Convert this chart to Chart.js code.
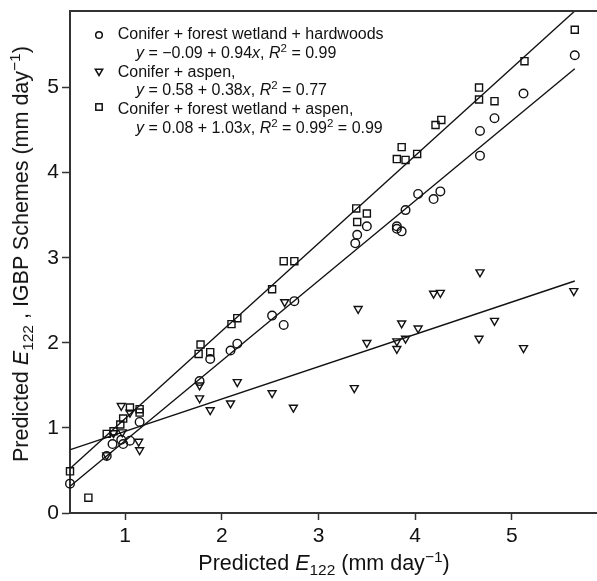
<!DOCTYPE html>
<html><head><meta charset="utf-8">
<script src="https://cdn.jsdelivr.net/npm/chart.js@4/dist/chart.umd.min.js"></script>
<style>
html,body{margin:0;padding:0;background:#fff;}
#wrap{position:relative;width:597px;height:581px;font-family:'Liberation Sans',Arial,sans-serif;color:#111;overflow:hidden;}
canvas{position:absolute;left:0;top:0;}
.t{position:absolute;white-space:nowrap;}
.sub{position:relative;font-size:0.72em;top:0.32em;}
.sup{position:relative;font-size:0.72em;top:-0.5em;}
.lg{font-size:16px;line-height:16px;}
.ax{font-size:21.5px;line-height:22px;}
</style></head><body>
<div id="wrap">
<canvas id="c" width="597" height="581"></canvas>
<div id="overlay"></div>
</div>
<script>
// ---- data ----
const seriesNames = [
  'Conifer + forest wetland + hardwoods',
  'Conifer + aspen,',
  'Conifer + forest wetland + aspen,'
];
const fitIntercept = [-0.09, 0.58, 0.08];
const fitSlope = [0.94, 0.38, 1.03];
const fitXRange = [0.434, 5.65];

const hardwoodsX = [0.43,0.81,0.87,0.96,0.98,1.05,1.15,1.77,1.88,2.09,2.16,2.52,2.64,2.75,3.38,3.40,3.50,3.81,3.81,3.86,3.90,4.03,4.19,4.26,4.67,4.67,4.82,5.12,5.65];
const hardwoodsY = [0.345,0.67,0.81,0.86,0.81,0.85,1.07,1.55,1.81,1.91,1.99,2.32,2.21,2.49,3.17,3.27,3.37,3.37,3.34,3.31,3.56,3.75,3.69,3.78,4.20,4.49,4.64,4.93,5.38];

const aspenX = [0.81,0.88,0.97,0.96,1.05,1.14,1.15,1.77,1.77,1.88,2.09,2.16,2.52,2.65,2.74,3.37,3.41,3.50,3.81,3.81,3.86,3.90,4.03,4.19,4.26,4.66,4.67,4.82,5.12,5.64];
const aspenY = [0.68,0.94,0.95,1.26,1.18,0.84,0.74,1.50,1.35,1.21,1.29,1.54,1.41,2.48,1.24,1.47,2.40,2.00,2.02,1.93,2.23,2.05,2.17,2.58,2.59,2.05,2.83,2.26,1.94,2.61];

const wetAspenX = [0.43,0.62,0.81,0.88,0.95,0.98,1.05,1.15,1.15,1.76,1.78,1.88,2.10,2.16,2.52,2.64,2.75,3.39,3.40,3.50,3.81,3.86,3.90,4.02,4.21,4.27,4.66,4.66,4.82,5.13,5.65];
const wetAspenY = [0.49,0.18,0.93,0.96,1.04,1.11,1.24,1.22,1.18,1.87,1.98,1.89,2.22,2.29,2.63,2.96,2.96,3.58,3.42,3.52,4.16,4.30,4.15,4.22,4.56,4.62,4.86,5.00,4.84,5.31,5.68];

const xTickValues = [1,2,3,4,5];
const yTickValues = [0,1,2,3,4,5];
const xRange = [0.43, 5.88];
const yRange = [0, 5.9];

// ---- build ----
const pts = (xs, ys) => xs.map((x,i)=>({x, y: ys[i]}));
const fitLine = k => fitXRange.map(x => ({x, y: fitIntercept[k] + fitSlope[k]*x}));
const ink = '#111';
const axisInk = '#333';

const markerBase = {showLine:false, borderColor: ink, backgroundColor:'rgba(0,0,0,0)', borderWidth:1.4, clip:false};
const lineBase = {showLine:true, borderColor: ink, borderWidth:1.4, pointRadius:0, clip:false, fill:false};

const topBorder = {
  id:'topBorder',
  afterDraw(chart){
    const {ctx, chartArea:a} = chart;
    ctx.save(); ctx.strokeStyle = axisInk; ctx.lineWidth = 2;
    ctx.beginPath(); ctx.moveTo(a.left-1, a.top); ctx.lineTo(a.right, a.top); ctx.stroke();
    ctx.restore();
  }
};

new Chart(document.getElementById('c'), {
  type:'scatter',
  data:{ datasets:[
    Object.assign({label: seriesNames[0], data: pts(hardwoodsX, hardwoodsY), pointStyle:'circle', pointRadius:4.3}, markerBase),
    Object.assign({label: seriesNames[1], data: pts(aspenX, aspenY), pointStyle:'triangle', rotation:180, pointRadius:4.6}, markerBase),
    Object.assign({label: seriesNames[2], data: pts(wetAspenX, wetAspenY), pointStyle:'rect', pointRadius:5}, markerBase),
    Object.assign({label:'fit1', data: fitLine(0)}, lineBase),
    Object.assign({label:'fit2', data: fitLine(1)}, lineBase),
    Object.assign({label:'fit3', data: fitLine(2)}, lineBase)
  ]},
  options:{
    responsive:false, animation:false,
    layout:{autoPadding:false, padding:{top:11,left:0,right:0,bottom:0}},
    plugins:{legend:{display:false}, tooltip:{enabled:false}},
    scales:{
      x:{
        type:'linear', min:xRange[0], max:xRange[1],
        afterBuildTicks: s => { s.ticks = xTickValues.map(v=>({value:v})); },
        afterFit: s => { s.height = 68; s.paddingLeft = 0; s.paddingRight = 0; },
        grid:{drawOnChartArea:false, drawTicks:true, tickLength:7, tickColor:axisInk, tickWidth:1.5},
        border:{display:true, color:axisInk, width:2},
        ticks:{color:ink, font:{family:"'Liberation Sans', Arial, sans-serif", size:21}, padding:4, maxRotation:0}
      },
      y:{
        type:'linear', min:yRange[0], max:yRange[1],
        afterBuildTicks: s => { s.ticks = yTickValues.map(v=>({value:v})); },
        afterFit: s => { s.width = 70; s.paddingTop = 0; s.paddingBottom = 0; },
        grid:{drawOnChartArea:false, drawTicks:true, tickLength:8, tickColor:axisInk, tickWidth:1.5},
        border:{display:true, color:axisInk, width:2},
        ticks:{color:ink, font:{family:"'Liberation Sans', Arial, sans-serif", size:21}, padding:3}
      }
    }
  },
  plugins:[topBorder]
});

// ---- text overlays (legend + axis titles) ----
const ov = document.getElementById('overlay');
const eqHTML = k => {
  const a = fitIntercept[k], b = fitSlope[k];
  const aStr = (a < 0 ? '\u22120' : '0') + Math.abs(a).toFixed(2).slice(1);
  return '<i>y</i> = ' + aStr + ' + ' + b.toFixed(2) + '<i>x</i>, <i>R</i><span class="sup">2</span> = ';
};
const r2Text = ['0.99', '0.77', '0.99<span class="sup">2</span> = 0.99'];
const markerSVG = [
  '<svg width="12" height="12"><circle cx="6" cy="6" r="3.3" fill="none" stroke="#111" stroke-width="1.5"/></svg>',
  '<svg width="12" height="12"><polygon points="2.3,3.2 9.7,3.2 6,9.5" fill="none" stroke="#111" stroke-width="1.5"/></svg>',
  '<svg width="12" height="12"><rect x="2.8" y="2.8" width="6.4" height="6.4" fill="none" stroke="#111" stroke-width="1.5"/></svg>'
];
const baselines = [39.5, 58, 77, 95.5, 114.5, 133];
const markerY = [34.5, 71.7, 107];
let html = '';
for (let k=0;k<3;k++){
  html += '<div class="t" style="left:' + (98.5-6) + 'px;top:' + (markerY[k]-6) + 'px;line-height:0">' + markerSVG[k] + '</div>';
  html += '<div class="t lg" style="left:117.7px;top:' + (baselines[2*k]-13.5) + 'px">' + seriesNames[k] + '</div>';
  html += '<div class="t lg" style="left:136px;top:' + (baselines[2*k+1]-13.5) + 'px">' + eqHTML(k) + r2Text[k] + '</div>';
}
html += '<div class="t ax" style="left:324px;top:564px;transform:translate(-50%,-50%)">Predicted <i>E</i><span class="sub">122</span> (mm day<span class="sup">\u22121</span>)</div>';
html += '<div class="t ax" style="left:22px;top:254px;transform:translate(-50%,-50%) rotate(-90deg)">Predicted <i>E</i><span class="sub">122</span> , IGBP Schemes (mm day<span class="sup">\u22121</span>)</div>';
ov.innerHTML = html;
</script>
</body></html>
